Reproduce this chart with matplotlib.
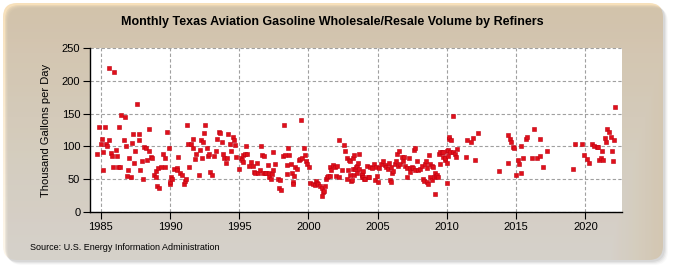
import numpy as np
import matplotlib
matplotlib.use("Agg")
import matplotlib.pyplot as plt
from matplotlib.patches import FancyBboxPatch

plt.rcParams['font.family'] = ['Liberation Sans', 'DejaVu Sans']

years = [
    1984.73, 1984.85, 1984.99, 1985.09, 1985.14, 1985.18, 1985.28, 1985.38, 1985.45, 1985.57,
    1985.59, 1985.72, 1985.83, 1985.86, 1985.93, 1986.08, 1986.15, 1986.26, 1986.32, 1986.41,
    1986.44, 1986.65, 1986.73, 1986.82, 1986.89, 1986.99, 1987.04, 1987.16, 1987.23, 1987.30,
    1987.40, 1987.47, 1987.62, 1987.76, 1987.78, 1987.85, 1987.96, 1988.03, 1988.12, 1988.24,
    1988.34, 1988.46, 1988.50, 1988.63, 1988.72, 1988.84, 1988.97, 1988.99, 1989.06, 1989.15,
    1989.18, 1989.33, 1989.49, 1989.62, 1989.66, 1989.76, 1989.91, 1989.98, 1990.00, 1990.07,
    1990.17, 1990.31, 1990.48, 1990.53, 1990.60, 1990.72, 1990.85, 1991.01, 1991.08, 1991.16,
    1991.21, 1991.28, 1991.37, 1991.54, 1991.64, 1991.68, 1991.81, 1991.86, 1992.10, 1992.17,
    1992.22, 1992.29, 1992.36, 1992.43, 1992.51, 1992.65, 1992.72, 1992.80, 1992.89, 1993.01,
    1993.16, 1993.30, 1993.40, 1993.56, 1993.63, 1993.74, 1993.81, 1993.90, 1994.05, 1994.12,
    1994.17, 1994.34, 1994.40, 1994.53, 1994.60, 1994.70, 1994.79, 1994.99, 1995.13, 1995.18,
    1995.25, 1995.30, 1995.42, 1995.49, 1995.59, 1995.73, 1995.83, 1995.98, 1996.05, 1996.14,
    1996.31, 1996.34, 1996.48, 1996.55, 1996.65, 1996.70, 1996.79, 1996.86, 1996.96, 1997.10,
    1997.13, 1997.15, 1997.28, 1997.37, 1997.42, 1997.46, 1997.57, 1997.78, 1997.88, 1997.95,
    1998.00, 1998.19, 1998.22, 1998.33, 1998.43, 1998.48, 1998.50, 1998.60, 1998.72, 1998.82,
    1998.87, 1998.91, 1998.96, 1999.05, 1999.15, 1999.30, 1999.41, 1999.44, 1999.56, 1999.66,
    1999.78, 1999.83, 1999.92, 2000.02, 2000.12, 2000.36, 2000.50, 2000.55, 2000.60, 2000.72,
    2000.84, 2000.98, 2000.99, 2001.03, 2001.13, 2001.20, 2001.27, 2001.32, 2001.39, 2001.56,
    2001.58, 2001.66, 2001.76, 2001.94, 2001.99, 2002.09, 2002.19, 2002.23, 2002.41, 2002.55,
    2002.62, 2002.77, 2002.79, 2002.87, 2002.93, 2003.01, 2003.03, 2003.06, 2003.13, 2003.20,
    2003.24, 2003.29, 2003.32, 2003.37, 2003.44, 2003.49, 2003.53, 2003.61, 2003.63, 2003.68,
    2003.85, 2003.87, 2003.89, 2003.92, 2003.97, 2004.01, 2004.09, 2004.26, 2004.32, 2004.40,
    2004.45, 2004.57, 2004.74, 2004.80, 2004.88, 2004.93, 2005.05, 2005.12, 2005.22, 2005.37,
    2005.53, 2005.61, 2005.77, 2005.85, 2005.87, 2005.95, 2005.97, 2006.02, 2006.13, 2006.26,
    2006.33, 2006.42, 2006.50, 2006.57, 2006.62, 2006.74, 2006.86, 2006.88, 2006.98, 2007.10,
    2007.15, 2007.25, 2007.34, 2007.36, 2007.46, 2007.58, 2007.65, 2007.70, 2007.72, 2007.83,
    2007.94, 2008.06, 2008.19, 2008.26, 2008.35, 2008.42, 2008.50, 2008.55, 2008.59, 2008.66,
    2008.74, 2008.79, 2008.81, 2008.91, 2008.93, 2009.02, 2009.04, 2009.15, 2009.16, 2009.22,
    2009.31, 2009.39, 2009.46, 2009.51, 2009.53, 2009.63, 2009.70, 2009.75, 2009.87, 2009.89,
    2009.99, 2010.00, 2010.04, 2010.09, 2010.11, 2010.14, 2010.18, 2010.23, 2010.30, 2010.43,
    2010.47, 2010.59, 2010.64, 2010.76, 2011.37, 2011.44, 2011.73, 2011.87, 2012.02, 2012.23,
    2013.75, 2014.42, 2014.44, 2014.57, 2014.66, 2014.76, 2014.86, 2015.00, 2015.12, 2015.24,
    2015.34, 2015.38, 2015.51, 2015.72, 2015.77, 2016.16, 2016.29, 2016.50, 2016.72, 2016.76,
    2016.91, 2017.22, 2019.10, 2019.27, 2019.75, 2019.92, 2020.14, 2020.28, 2020.50, 2020.66,
    2020.83, 2020.95, 2020.97, 2021.13, 2021.19, 2021.27, 2021.41, 2021.50, 2021.55, 2021.70,
    2021.84, 2021.92, 2022.01, 2022.06, 2022.15,
]
volumes = [
    89, 130, 103, 112, 64, 92, 130, 104, 100, 110,
    219, 90, 86, 68, 213, 95, 86, 69, 130, 69,
    148, 109, 145, 100, 55, 64, 83, 53, 105, 119,
    75, 93, 165, 119, 109, 64, 78, 50, 99, 97,
    79, 93, 127, 84, 83, 56, 62, 53, 39, 67,
    37, 69, 89, 83, 69, 122, 97, 42, 46, 54,
    50, 65, 67, 64, 84, 60, 57, 42, 47, 51,
    132, 103, 69, 104, 112, 98, 81, 89, 56, 95,
    109, 82, 106, 120, 132, 98, 86, 88, 61, 57,
    86, 93, 111, 122, 120, 107, 89, 83, 74, 83,
    119, 103, 93, 114, 109, 102, 84, 66, 83, 79,
    87, 76, 88, 101, 88, 70, 76, 70, 61, 59,
    74, 60, 64, 101, 87, 60, 85, 60, 59, 71,
    54, 60, 51, 58, 92, 64, 73, 50, 36, 49,
    34, 85, 133, 87, 72, 58, 97, 87, 73, 60,
    45, 42, 55, 69, 66, 79, 81, 141, 83, 97,
    87, 78, 73, 68, 44, 43, 41, 48, 44, 43,
    39, 36, 24, 31, 32, 39, 50, 53, 55, 68,
    55, 64, 71, 68, 55, 70, 110, 54, 64, 102,
    93, 83, 51, 64, 80, 56, 78, 47, 49, 66,
    83, 56, 87, 66, 69, 70, 59, 74, 88, 66,
    56, 58, 54, 53, 63, 50, 50, 70, 53, 54,
    68, 67, 73, 49, 69, 55, 46, 67, 73, 78,
    72, 68, 65, 74, 49, 69, 45, 60, 63, 73,
    77, 89, 70, 93, 73, 84, 77, 84, 70, 67,
    53, 83, 67, 61, 69, 67, 95, 64, 97, 78,
    64, 65, 70, 51, 48, 73, 77, 46, 67, 43,
    87, 73, 53, 70, 49, 69, 54, 59, 27, 55,
    56, 54, 88, 73, 92, 92, 91, 84, 79, 82,
    75, 44, 93, 95, 86, 112, 115, 92, 109, 147,
    92, 89, 84, 96, 84, 109, 106, 113, 80, 121,
    63, 74, 118, 111, 106, 99, 98, 56, 79, 73,
    101, 60, 83, 112, 115, 83, 127, 82, 111, 86,
    68, 93, 66, 104, 104, 87, 81, 74, 104, 100,
    99, 99, 80, 82, 93, 80, 113, 107, 127, 122,
    115, 93, 78, 110, 160,
]
x_ticks = [1985, 1990, 1995, 2000, 2005, 2010, 2015, 2020]
y_ticks = [0, 50, 100, 150, 200, 250]

W, H = 675, 275
fig = plt.figure(figsize=(W / 100, H / 100), dpi=100)
fig.patch.set_facecolor('white')

# decorative rounded frame with soft shadow and tan gradient
bg = fig.add_axes([0, 0, 1, 1], zorder=-5)
bg.set_xlim(0, W)
bg.set_ylim(H, 0)
bg.axis('off')
for off, a in [(5, 0.05), (4, 0.08), (3, 0.12), (2, 0.15)]:
    bg.add_patch(FancyBboxPatch((3 + off, 3 + off), 660, 257,
                                boxstyle="round,pad=0,rounding_size=14",
                                fc='#909090', ec='none', alpha=a))
frame = FancyBboxPatch((3, 3), 660, 257, boxstyle="round,pad=0,rounding_size=14",
                       fc='none', ec='none')
bg.add_patch(frame)
yy, xx = np.mgrid[0:H, 0:W]
tan = np.array([247, 224, 186]) / 255
cream = np.array([253, 246, 234]) / 255
f = np.clip(1 - yy / 250, 0, 1) ** 1.1
g = np.clip((xx - 610) / 55, 0, 1) * 0.8
f = np.maximum(f, g)
img = tan * f[..., None] + cream * (1 - f[..., None])
im = bg.imshow(img, extent=(0, W, H, 0), aspect='auto', zorder=0)
im.set_clip_path(frame)

ax = fig.add_axes([90 / W, 1 - 212 / H, (622 - 90) / W, (212 - 48) / H])
ax.set_facecolor('white')
ax.scatter(years, volumes, marker='s', s=11, color='#e0101a', edgecolors='#c00010',
           linewidths=0.4, zorder=3)

ax.set_xlim(1984.22, 2022.65)
ax.set_ylim(0, 250)
ax.set_xticks(x_ticks)
ax.set_yticks(y_ticks)
ax.grid(True, color='#a0a0a0', linestyle=(0, (3, 2)), linewidth=0.8)
ax.set_axisbelow(True)
for s in ['top', 'right']:
    ax.spines[s].set_visible(False)
for s in ['left', 'bottom']:
    ax.spines[s].set_linewidth(1.0)
ax.tick_params(axis='both', direction='out', length=5, width=0.8, labelsize=8, pad=2)
ax.set_ylabel('Thousand Gallons per Day', fontsize=8, labelpad=8)

fig.text(0.492, 1 - 22 / H, 'Monthly Texas Aviation Gasoline Wholesale/Resale Volume by Refiners',
         ha='center', va='center', fontsize=9, fontweight='bold')
fig.text(30 / W, 1 - 248 / H, 'Source: U.S. Energy Information Administration',
         ha='left', va='center', fontsize=6.5)

fig.savefig('out.png', dpi=100, facecolor=fig.get_facecolor())
